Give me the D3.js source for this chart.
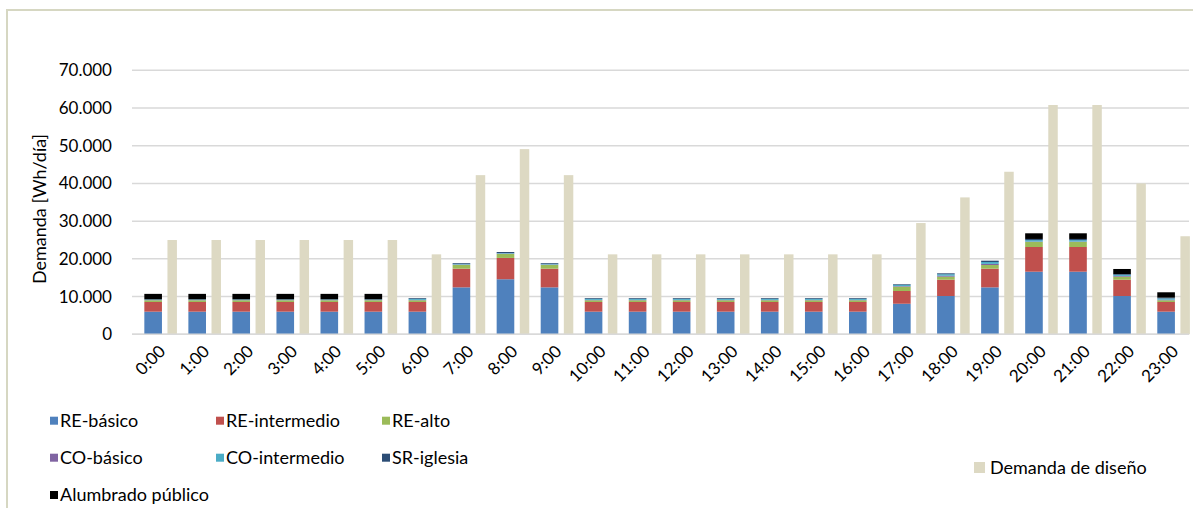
<!DOCTYPE html>
<html>
<head>
<meta charset="utf-8">
<script src="https://cdn.jsdelivr.net/npm/d3@7"></script>
<style>
  body { margin: 0; background: #fff; }
  svg { font-family: Lato, "Noto Sans", sans-serif; }
</style>
</head>
<body>
<div id="chart"></div>
<script>
// horas del día
const horas = ['0:00','1:00','2:00','3:00','4:00','5:00','6:00','7:00','8:00','9:00','10:00','11:00',
  '12:00','13:00','14:00','15:00','16:00','17:00','18:00','19:00','20:00','21:00','22:00','23:00'];

// series apiladas (Wh/día)
const reBasico       = [6000,6000,6000,6000,6000,6000,6000,12450,14600,12450,6000,6000,6000,6000,6000,6000,6000,8100,10150,12450,16600,16600,10150,6000];
const reIntermedio   = [2570,2570,2570,2570,2570,2570,2570,4950,5650,4950,2570,2570,2570,2570,2570,2570,2570,3380,4330,4950,6550,6550,4330,2570];
const reAlto         = [450,450,450,450,450,450,450,1000,1050,1000,450,450,450,450,450,450,450,1150,800,970,1330,1330,800,450];
const coBasico       = [50,50,50,50,50,50,100,100,100,100,100,100,100,100,100,100,100,150,250,300,100,100,200,150];
const coIntermedio   = [150,150,150,150,150,150,300,200,150,200,300,300,300,300,300,300,300,300,400,500,400,400,300,350];
const srIglesia      = [50,50,50,50,50,50,200,200,270,200,200,200,200,200,200,200,200,180,240,350,300,300,200,200];
const alumbrado      = [1450,1450,1450,1450,1450,1450,0,0,0,0,0,0,0,0,0,0,0,0,0,0,1500,1500,1340,1420];

// demanda de diseño
const demandaDiseno  = [25000,25000,25000,25000,25000,25000,21200,42200,49100,42200,21200,21200,21200,21200,21200,21200,21200,29500,36300,43100,60800,60800,40000,26000];

const yTicks = [0,10000,20000,30000,40000,50000,60000,70000];

const series = [
  { name: 'RE-básico', values: reBasico, color: '#4F81BD' },
  { name: 'RE-intermedio', values: reIntermedio, color: '#C0504D' },
  { name: 'RE-alto', values: reAlto, color: '#9BBB59' },
  { name: 'CO-básico', values: coBasico, color: '#8064A2' },
  { name: 'CO-intermedio', values: coIntermedio, color: '#4BACC6' },
  { name: 'SR-iglesia', values: srIglesia, color: '#2C4D75' },
  { name: 'Alumbrado público', values: alumbrado, color: '#000000' }
];
const colorDiseno = '#DDD9C3';

const W = 1193, H = 508;
const svg = d3.select('#chart').append('svg')
  .attr('width', W).attr('height', H);

// borde del gráfico
svg.append('rect')
  .attr('x', 7).attr('y', 10).attr('width', W + 20).attr('height', H + 20)
  .attr('fill', '#fff').attr('stroke', '#D6D7C2').attr('stroke-width', 2);

const x = d3.scaleBand().domain(horas).range([132, 1189]).paddingInner(0).paddingOuter(0);
const y = d3.scaleLinear().domain([0, 70000]).range([334.3, 70.3]);
const bw = x.bandwidth();

// lineas de cuadrícula
svg.append('g')
  .selectAll('line').data(yTicks).enter().append('line')
  .attr('x1', 132).attr('x2', 1189)
  .attr('y1', d => y(d)).attr('y2', d => y(d))
  .attr('stroke', '#D9D9D9').attr('stroke-width', 1.5);

// eje Y
const yAxis = svg.append('g')
  .attr('transform', 'translate(112,0)')
  .call(d3.axisLeft(y).tickValues(yTicks).tickSize(0).tickPadding(0)
    .tickFormat(d => d === 0 ? '0' : d3.format(',')(d).replace(/,/g, '.')));
yAxis.select('.domain').remove();
yAxis.selectAll('text').attr('font-size', 17).attr('fill', '#000').attr('font-family', 'Lato, sans-serif');

svg.append('text')
  .attr('transform', 'translate(46,' + 209 + ') rotate(-90)')
  .attr('text-anchor', 'middle')
  .attr('font-size', 18)
  .text('Demanda [Wh/día]');

// barras apiladas
const tabla = horas.map((h, i) => {
  const row = { hora: h };
  series.forEach(s => { row[s.name] = s.values[i]; });
  return row;
});
const stack = d3.stack().keys(series.map(s => s.name));
const capas = stack(tabla);

svg.append('g').selectAll('g').data(capas).enter().append('g')
  .attr('fill', (d, i) => series[i].color)
  .selectAll('rect').data(d => d).enter().append('rect')
  .attr('x', d => x(d.data.hora) + bw * 0.28)
  .attr('width', bw * 0.40)
  .attr('y', d => y(d[1]))
  .attr('height', d => y(d[0]) - y(d[1]));

// barras demanda de diseño
svg.append('g').selectAll('rect').data(demandaDiseno).enter().append('rect')
  .attr('x', (d, i) => x(horas[i]) + bw * 0.805)
  .attr('width', bw * 0.215)
  .attr('y', d => y(d))
  .attr('height', d => y(0) - y(d))
  .attr('fill', colorDiseno);

// eje X
svg.append('line')
  .attr('x1', 132).attr('x2', 1189).attr('y1', y(0)).attr('y2', y(0))
  .attr('stroke', '#D9D9D9').attr('stroke-width', 1.5);

svg.append('g').selectAll('text').data(horas).enter().append('text')
  .attr('transform', d => 'translate(' + (x(d) + bw / 2 + 4) + ',' + 344 + ') rotate(-45)')
  .attr('text-anchor', 'end')
  .attr('dy', '0.7em')
  .attr('font-size', 17)
  .text(d => d);

// leyenda
const cols = [50, 216, 382];
const rows = [420.7, 457.7, 495];
const leyenda = svg.append('g');
series.forEach((s, i) => {
  const cx = cols[i % 3], cy = rows[Math.floor(i / 3)];
  leyenda.append('rect').attr('x', cx).attr('y', cy - 4).attr('width', 8).attr('height', 8).attr('fill', s.color);
  leyenda.append('text').attr('x', cx + 10).attr('y', cy).attr('dy', '0.35em')
    .attr('font-size', 18).text(s.name);
});
leyenda.append('rect').attr('x', 974).attr('y', 462).attr('width', 11).attr('height', 11).attr('fill', colorDiseno);
leyenda.append('text').attr('x', 990).attr('y', 467.5).attr('dy', '0.35em')
  .attr('font-size', 18).text('Demanda de diseño');
</script>
</body>
</html>
